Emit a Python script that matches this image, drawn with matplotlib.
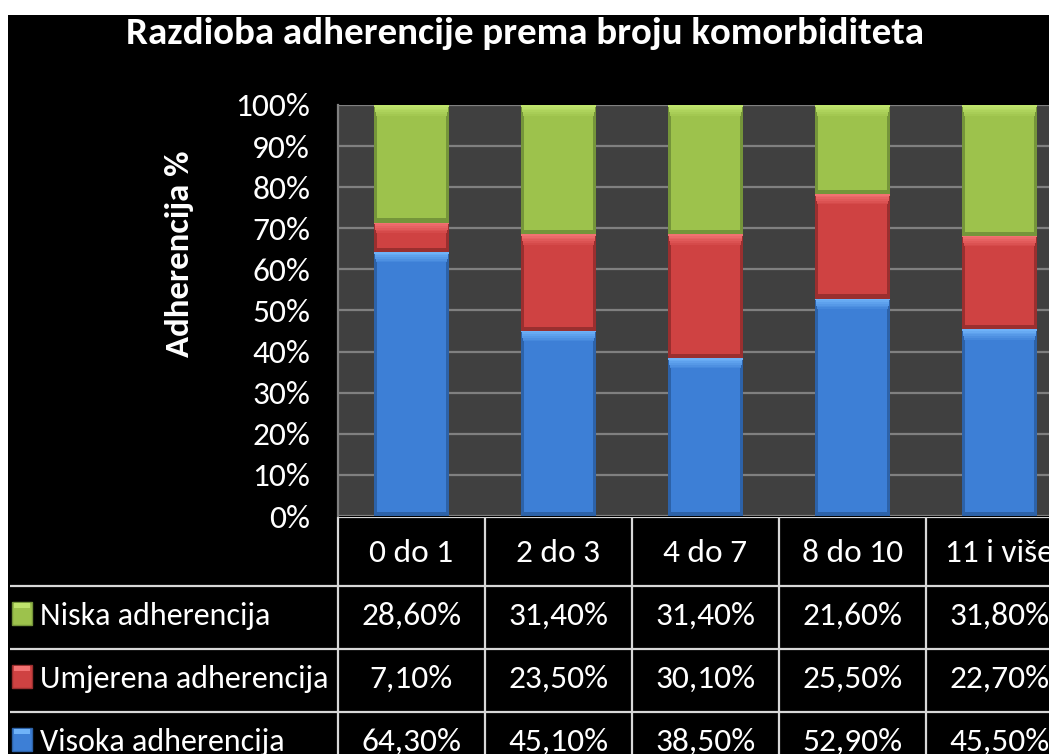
import matplotlib
matplotlib.use("Agg")
import matplotlib.pyplot as plt
from matplotlib.patches import Rectangle
from matplotlib.colors import to_rgb
import numpy as np

categories = ["0 do 1", "2 do 3", "4 do 7", "8 do 10", "11 i više"]
series_names = ["Niska adherencija", "Umjerena adherencija", "Visoka adherencija"]
niska = [28.6, 31.4, 31.4, 21.6, 31.8]
umjerena = [7.1, 23.5, 30.1, 25.5, 22.7]
visoka = [64.3, 45.1, 38.5, 52.9, 45.5]
y_ticks = [0, 10, 20, 30, 40, 50, 60, 70, 80, 90, 100]

title = "Razdioba adherencije prema broju komorbiditeta"
y_label = "Adherencija %"

# main, light (top bevel), dark (side / bottom bevel)
colors = {
    "Niska adherencija": ("#9dc24c", "#bfe36c", "#75953a"),
    "Umjerena adherencija": ("#cf4242", "#f27272", "#9a2f2f"),
    "Visoka adherencija": ("#3d7fd6", "#6fb2f8", "#2d62a8"),
}


def blend(c1, c2, t):
    a, b = np.array(to_rgb(c1)), np.array(to_rgb(c2))
    return tuple(a + (b - a) * t)


# Carlito = Calibri metrics; fall back if missing
plt.rcParams['font.family'] = ['Carlito', 'Roboto Condensed', 'DejaVu Sans']

W, H = 1049, 754
fig = plt.figure(figsize=(W / 100, H / 100), dpi=100)
fig.patch.set_facecolor("white")
# black chart area (image has a white strip on top / left)
fig.patches.append(Rectangle((8 / W, 0), 1, 1 - 15 / H, transform=fig.transFigure,
                             facecolor="black", edgecolor="none", zorder=-10))

fig.text(525 / W, 1 - 34 / H, title, ha="center", va="center",
         color="white", fontsize=28, fontweight="bold")

# plot area
ax = fig.add_axes([338 / W, (H - 516) / H, 735 / W, 411 / H])
ax.set_facecolor("#404040")
x = np.arange(len(categories))
bw = 0.51
band = 2.6
steps = 6
bottom = np.zeros(len(categories))
for name, vals in [("Visoka adherencija", visoka),
                   ("Umjerena adherencija", umjerena),
                   ("Niska adherencija", niska)]:
    main, light, dark = colors[name]
    vals = np.array(vals)
    top = bottom + vals
    ax.bar(x, vals, bw, bottom=bottom, color=dark, zorder=3)
    ax.bar(x, vals - 1.2, bw - 0.04, bottom=bottom + 1.0, color=main, zorder=4)
    # soft top bevel
    h = np.minimum(band, vals) / steps
    for k in range(steps):
        t = (k + 1) / steps
        ax.bar(x, h, bw - 0.04 * (1 - t), bottom=top - h * (steps - k),
               color=blend(main, light, t), zorder=5)
    bottom = top

ax.set_xlim(-0.5, 4.5)
ax.set_ylim(0, 100)
ax.set_yticks(y_ticks)
ax.set_yticklabels(["%d%%" % v for v in y_ticks])
ax.set_xticks([])
ax.tick_params(axis="y", length=0, pad=20, colors="white", labelsize=24)
ax.yaxis.grid(True, color="#808080", linewidth=1.6, zorder=1)
ax.set_axisbelow(True)
for s in ["top", "right", "bottom"]:
    ax.spines[s].set_visible(False)
ax.spines["left"].set_color("#808080")
ax.spines["left"].set_linewidth(1.6)

fig.text(180 / W, 1 - 254 / H, y_label, rotation=90, ha="center", va="center",
         color="white", fontsize=25, fontweight="bold")

# data table under the chart
left_x = -0.5 - (338 - 10) / 147
tax = fig.add_axes([10 / W, 0, 1063 / W, (H - 517) / H])
tax.set_xlim(left_x, 4.5)
tax.set_ylim(H, 517)
tax.axis("off")
tax.patch.set_alpha(0)

row_edges = [517, 586, 649, 712, 775]
tax.hlines(row_edges[0], -0.5, 4.5, color="#d8d8d8", lw=1.6)
tax.hlines(row_edges[1:4], left_x, 4.5, color="#d8d8d8", lw=1.6)
tax.vlines(np.arange(-0.5, 5), row_edges[0], row_edges[-1], color="#d8d8d8", lw=1.6)

for i, c in enumerate(categories):
    tax.text(i, row_edges[1] - 24, c, ha="center", va="baseline",
             color="white", fontsize=24)

px = 1 / 147
for r, (name, vals) in enumerate(zip(series_names, [niska, umjerena, visoka])):
    main, light, dark = colors[name]
    yb = row_edges[r + 2]
    yc = (row_edges[r + 1] + yb) / 2 - 4
    tax.add_patch(Rectangle((left_x + 2 * px, yc - 11.5), 20 * px, 23,
                            facecolor=main, edgecolor=dark, lw=1))
    tax.add_patch(Rectangle((left_x + 4 * px, yc - 10.5), 16 * px, 5,
                            facecolor=light, edgecolor="none"))
    tax.text(left_x + 30 * px, yb - 24, name, ha="left", va="baseline",
             color="white", fontsize=23)
    for i, v in enumerate(vals):
        tax.text(i, yb - 24, ("%.2f%%" % v).replace(".", ","), ha="center",
                 va="baseline", color="white", fontsize=24)

fig.savefig("out.png", dpi=100, facecolor=fig.get_facecolor())
